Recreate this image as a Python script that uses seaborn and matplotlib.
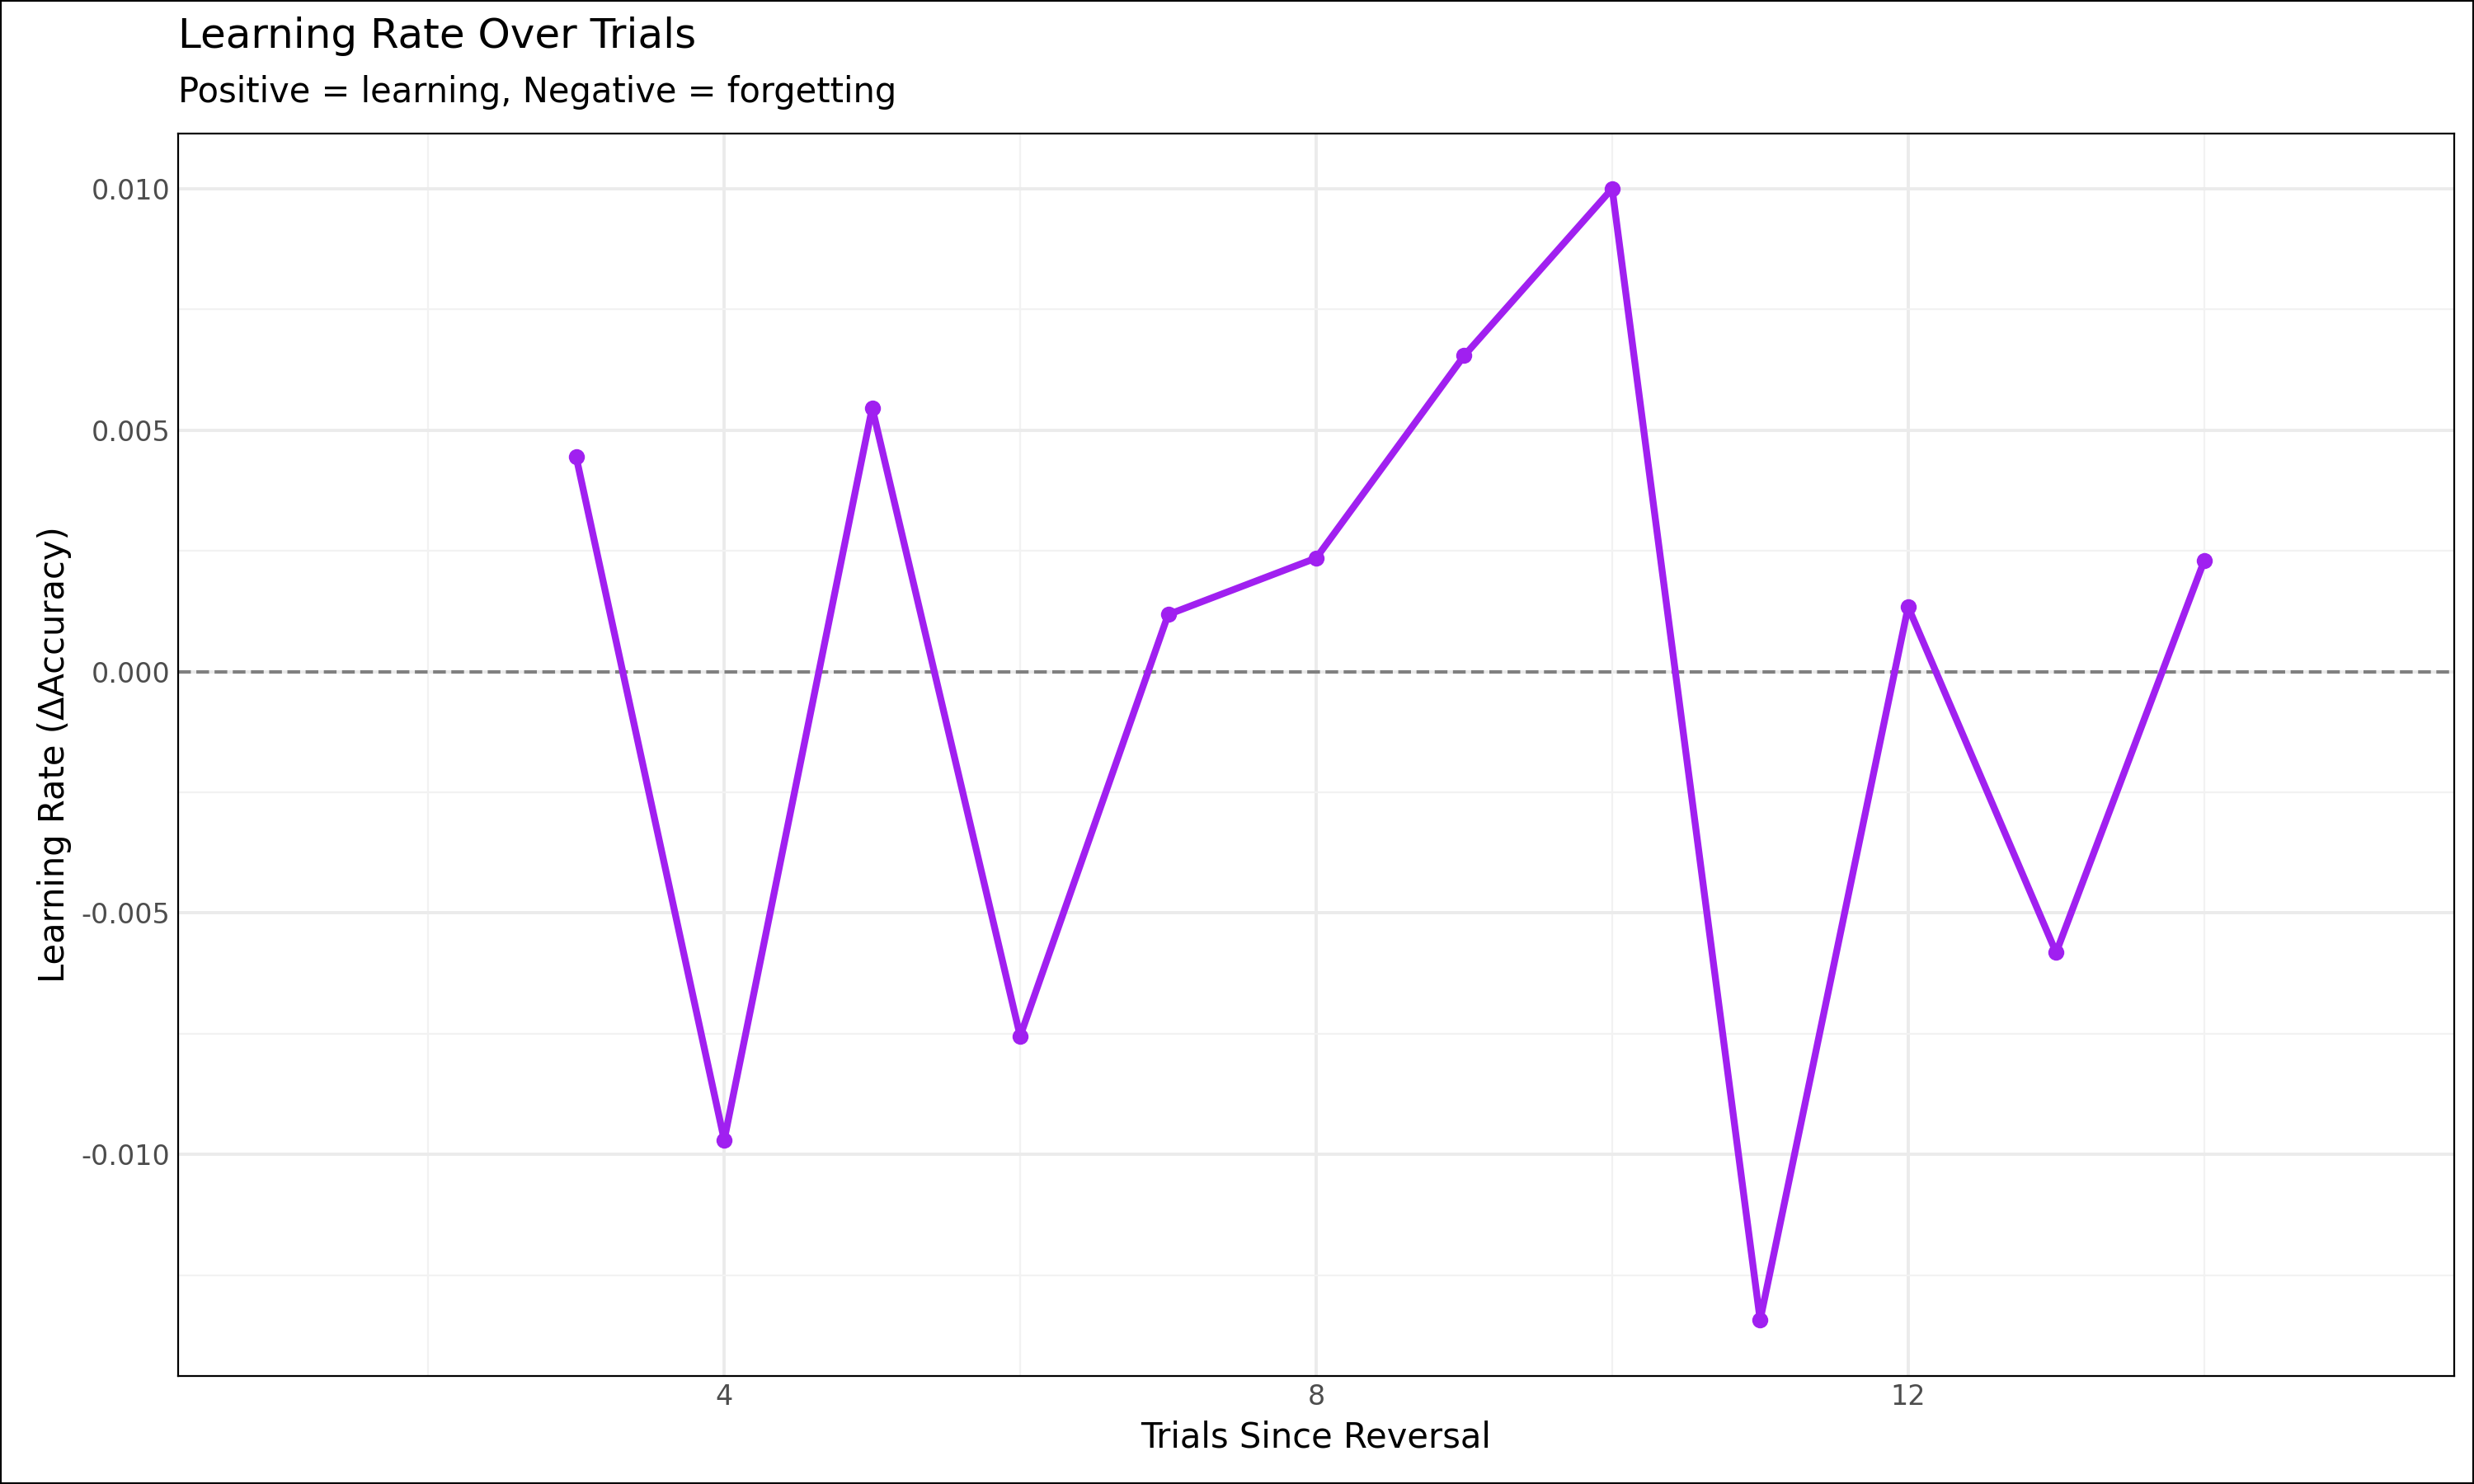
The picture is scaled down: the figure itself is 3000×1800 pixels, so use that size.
import matplotlib.pyplot as plt
import seaborn as sns
import pandas as pd
from matplotlib.ticker import MultipleLocator

trials = [3, 4, 5, 6, 7, 8, 9, 10, 11, 12, 13, 14]
rate = [0.00444, -0.0097, 0.00546, -0.00755, 0.00118, 0.00235, 0.00654,
        0.0100, -0.01343, 0.00134, -0.00582, 0.00229]
df = pd.DataFrame({'trial': trials, 'rate': rate})

sns.set_theme(style='whitegrid')
plt.rcParams['font.family'] = ['DejaVu Sans']
plt.rcParams['text.color'] = 'black'
plt.rcParams['axes.labelcolor'] = 'black'

fig = plt.figure(figsize=(15, 9), dpi=200)
ax = fig.add_axes([0.072, 0.073, 0.92, 0.837])

ax.axhline(0, color='grey', linestyle='--', linewidth=1.5, zorder=1)
sns.lineplot(data=df, x='trial', y='rate', color='#a020f0', linewidth=3,
             marker='o', markersize=7, markeredgewidth=0, ax=ax, zorder=3)

ax.set_xlim(0.31, 15.69)
ax.set_ylim(-0.01458, 0.01114)
ax.xaxis.set_major_locator(MultipleLocator(4))
ax.xaxis.set_minor_locator(MultipleLocator(2))
ax.yaxis.set_major_locator(MultipleLocator(0.005))
ax.yaxis.set_minor_locator(MultipleLocator(0.0025))
ax.set_xticks([4, 8, 12])
ax.set_yticklabels([f'{v:.3f}' for v in ax.get_yticks()])
ax.grid(which='major', color='#ebebeb', linewidth=1.4)
ax.grid(which='minor', color='#f2f2f2', linewidth=0.8)
for s in ax.spines.values():
    s.set_color('black')
    s.set_linewidth(0.8)
ax.tick_params(labelsize=12, colors='#4d4d4d', length=0)

ax.set_xlabel('Trials Since Reversal', fontsize=15)
ax.set_ylabel('Learning Rate (ΔAccuracy)', fontsize=15)
fig.text(0.072, 0.962, 'Learning Rate Over Trials', fontsize=18, va='bottom')
fig.text(0.072, 0.926, 'Positive = learning, Negative = forgetting', fontsize=15, va='bottom')

fig.patches.append(plt.Rectangle((0, 0), 1, 1, transform=fig.transFigure,
                                 fill=False, edgecolor='black', linewidth=1.5))
fig.savefig('out.png', dpi=200)
